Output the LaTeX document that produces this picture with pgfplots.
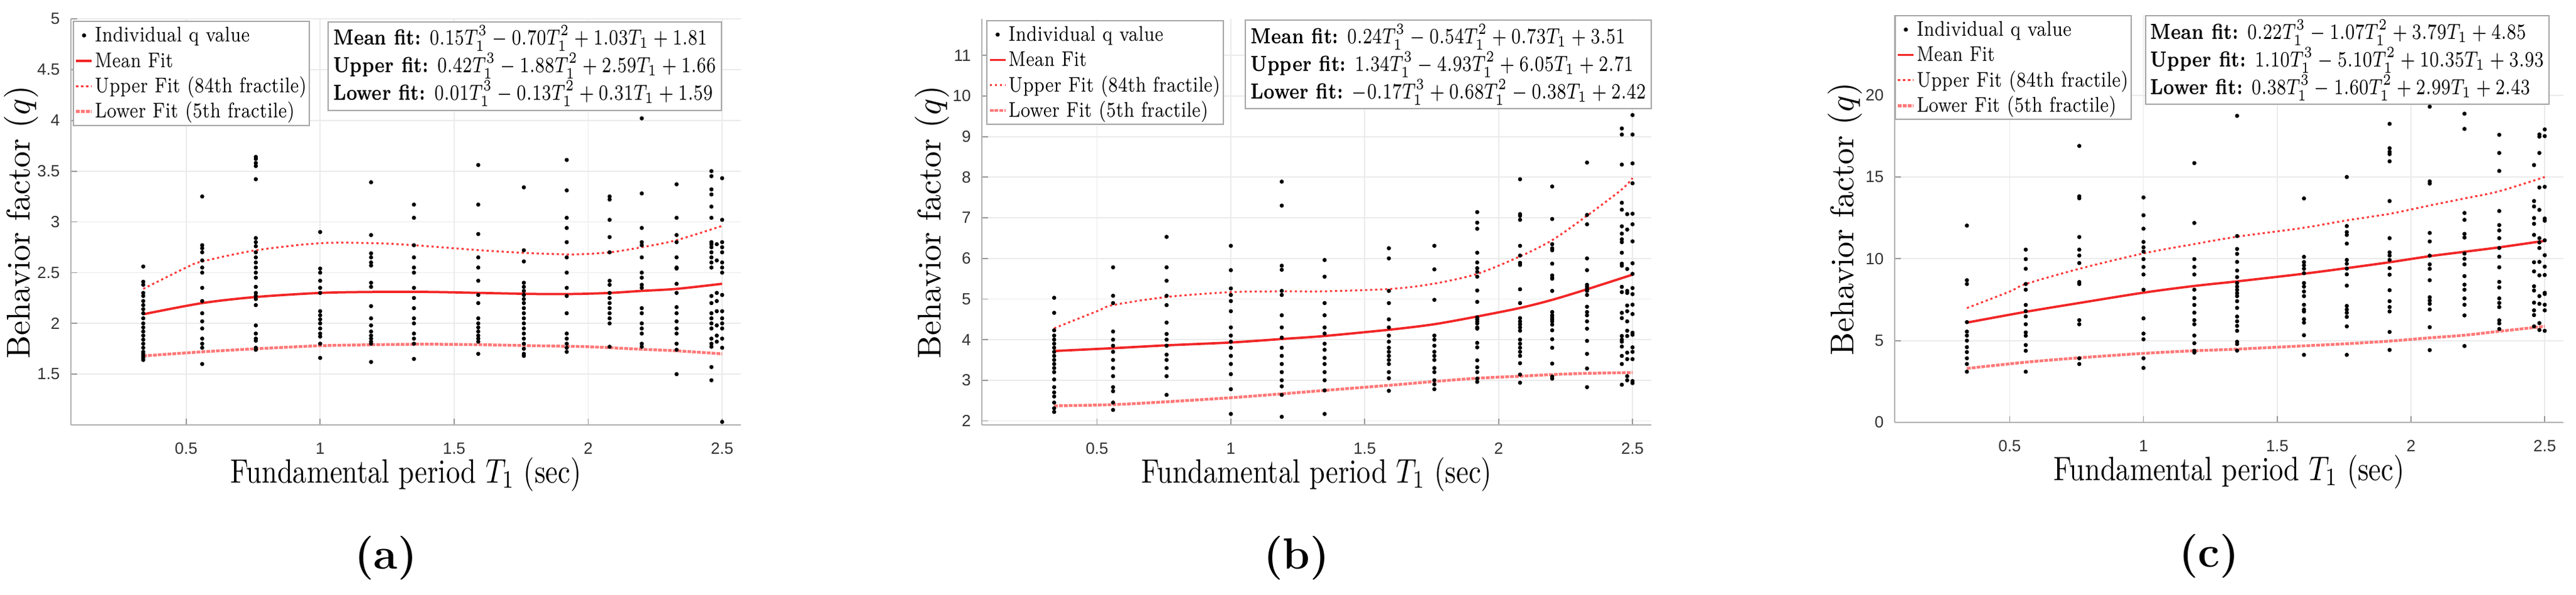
\documentclass[border=0pt]{standalone}
\usepackage{fontspec}
\usepackage{graphicx}
\usepackage{pgfplots}
\pgfplotsset{compat=1.18}
\newfontfamily\arial{Liberation Sans}

\definecolor{fitred}{rgb}{0.95,0.15,0.15}
\definecolor{upred}{rgb}{1,0.22,0.22}
\definecolor{lowred}{rgb}{1,0.47,0.47}

% text of the source figure: set each string to the width it has there
\newcommand{\lgt}[2]{\resizebox{#1}{\height}{#2\strut}}
\newcommand{\eqw}[2]{\hbox{\resizebox{#1}{\height}{#2}}}
\newcommand{\eqlines}[1]{\vbox{\setlength{\lineskiplimit}{-10pt}\setlength{\baselineskip}{8.8bp}#1}}

\pgfplotsset{
  limg/.style={legend image code/.code={\draw[mark repeat=2,mark phase=2,##1] plot coordinates {(0bp,0bp) (2.5bp,0bp) (5bp,0bp)};}},
  qpanel/.style={
    scale only axis, clip=false,
    xmin=0.07, xmax=2.57,
    xtick={0.5,1,1.5,2,2.5},
    axis lines=left,
    axis line style={-, draw=black!30, line width=0.5bp},
    tick align=inside, tick pos=left,
    major tick length=2bp,
    tick style={black!40, line width=0.35bp},
    grid=major, grid style={black!8, line width=0.35bp},
    /pgf/number format/assume math mode=true,
    tick label style={font=\arial\fontsize{5.2}{6.2}\selectfont, text=black!80},
    xticklabel style={yshift=-2.2bp},
    every axis x label/.style={at={(axis description cs:0.5,-0.122)}, anchor=center, font=\fontsize{10.8}{12}\selectfont},
    every axis y label/.style={at={(axis description cs:-0.074,0.5)}, anchor=center, rotate=90, font=\fontsize{10.5}{12}\selectfont},
    xlabel={\resizebox{111.8bp}{\height}{Fundamental period $T_1$ (sec)}},
    ylabel={\resizebox{87bp}{\height}{Behavior factor $(q)$}},
    legend cell align=left,
    legend style={anchor=north west, draw=black!35, fill=white,
      font=\fontsize{6.8}{8}\selectfont, inner sep=0.4bp,
      nodes={inner xsep=0.5bp, inner ysep=0.5bp}},
  },
  qdots/.style={limg, only marks, mark=*, mark size=0.45bp, black},
  qmean/.style={limg, fitred, line width=0.75bp, smooth, no marks},
  qup/.style={limg, upred, line width=0.6bp, dash pattern=on 0.7bp off 0.9bp, smooth, no marks},
  qlow/.style={limg, lowred, line width=0.9bp, dash pattern=on 1.2bp off 0.35bp, smooth, no marks},
}
\tikzset{
  eqbox/.style={draw=black!35, fill=white, anchor=north west,
    inner xsep=1.65bp, inner ysep=1.2bp, font=\fontsize{7}{8.8}\selectfont},
  panlabel/.style={font=\fontsize{14}{16}\selectfont\bfseries},
}

\begin{document}
\begin{tikzpicture}
\useasboundingbox (0,0) rectangle (821.2bp,189.6bp);

% ---------------- (a) ----------------
\begin{axis}[qpanel, at={(22.6bp,54.2bp)}, anchor=south west,
  width=213.6bp, height=129.4bp,
  ymin=1.0, ymax=5, ytick={1.5,2,2.5,3,3.5,4,4.5,5},
  legend style={at={(0.003,0.995)}}]
\addplot[qdots] coordinates {
(0.34,2.56)(0.34,2.41)(0.34,2.38)(0.34,2.30)(0.34,2.27)(0.34,2.22)(0.34,2.18)(0.34,2.14)(0.34,2.10)(0.34,2.05)(0.34,2.00)(0.34,1.96)(0.34,1.92)(0.34,1.88)(0.34,1.84)(0.34,1.80)(0.34,1.76)(0.34,1.72)(0.34,1.70)(0.34,1.68)(0.34,1.66)(0.34,1.64)
(0.56,3.25)(0.56,2.77)(0.56,2.74)(0.56,2.70)(0.56,2.62)(0.56,2.55)(0.56,2.50)(0.56,2.35)(0.56,2.22)(0.56,2.10)(0.56,2.02)(0.56,1.95)(0.56,1.85)(0.56,1.80)(0.56,1.76)(0.56,1.60)
(0.76,3.64)(0.76,3.62)(0.76,3.58)(0.76,3.55)(0.76,3.42)(0.76,2.84)(0.76,2.80)(0.76,2.76)(0.76,2.70)(0.76,2.65)(0.76,2.60)(0.76,2.55)(0.76,2.50)(0.76,2.45)(0.76,2.36)(0.76,2.30)(0.76,2.27)(0.76,2.24)(0.76,2.18)(0.76,1.98)(0.76,1.90)(0.76,1.85)(0.76,1.83)(0.76,1.76)(0.76,1.74)
(1.00,2.90)(1.00,2.54)(1.00,2.50)(1.00,2.42)(1.00,2.35)(1.00,2.30)(1.00,2.12)(1.00,2.08)(1.00,2.04)(1.00,2.00)(1.00,1.95)(1.00,1.90)(1.00,1.87)(1.00,1.80)(1.00,1.66)
(1.19,3.39)(1.19,2.87)(1.19,2.69)(1.19,2.65)(1.19,2.60)(1.19,2.57)(1.19,2.40)(1.19,2.36)(1.19,2.17)(1.19,2.05)(1.19,1.98)(1.19,1.92)(1.19,1.88)(1.19,1.85)(1.19,1.82)(1.19,1.80)(1.19,1.62)
(1.35,3.17)(1.35,3.04)(1.35,2.77)(1.35,2.65)(1.35,2.55)(1.35,2.50)(1.35,2.35)(1.35,2.25)(1.35,2.15)(1.35,2.05)(1.35,2.00)(1.35,1.90)(1.35,1.85)(1.35,1.80)(1.35,1.65)
(1.59,3.56)(1.59,3.17)(1.59,2.88)(1.59,2.65)(1.59,2.55)(1.59,2.42)(1.59,2.28)(1.59,2.20)(1.59,2.05)(1.59,2.00)(1.59,1.96)(1.59,1.92)(1.59,1.88)(1.59,1.85)(1.59,1.82)(1.59,1.70)
(1.76,3.34)(1.76,2.72)(1.76,2.61)(1.76,2.40)(1.76,2.36)(1.76,2.32)(1.76,2.28)(1.76,2.24)(1.76,2.20)(1.76,2.15)(1.76,2.10)(1.76,2.05)(1.76,2.00)(1.76,1.95)(1.76,1.90)(1.76,1.85)(1.76,1.80)(1.76,1.75)(1.76,1.70)(1.76,1.68)
(1.92,3.61)(1.92,3.31)(1.92,3.04)(1.92,2.94)(1.92,2.80)(1.92,2.65)(1.92,2.50)(1.92,2.35)(1.92,2.27)(1.92,2.10)(1.92,1.90)(1.92,1.85)(1.92,1.80)(1.92,1.76)(1.92,1.72)
(2.08,3.25)(2.08,3.22)(2.08,3.02)(2.08,2.85)(2.08,2.70)(2.08,2.42)(2.08,2.38)(2.08,2.30)(2.08,2.25)(2.08,2.20)(2.08,2.15)(2.08,2.10)(2.08,2.05)(2.08,2.00)(2.08,1.77)
(2.20,4.02)(2.20,3.28)(2.20,2.94)(2.20,2.80)(2.20,2.77)(2.20,2.65)(2.20,2.50)(2.20,2.45)(2.20,2.38)(2.20,2.35)(2.20,2.15)(2.20,2.10)(2.20,2.00)(2.20,1.95)(2.20,1.90)(2.20,1.80)(2.20,1.77)
(2.33,3.37)(2.33,3.04)(2.33,2.87)(2.33,2.80)(2.33,2.65)(2.33,2.55)(2.33,2.54)(2.33,2.39)(2.33,2.30)(2.33,2.16)(2.33,2.10)(2.33,2.02)(2.33,1.95)(2.33,1.90)(2.33,1.80)(2.33,1.74)(2.33,1.50)
(2.46,3.50)(2.46,3.45)(2.46,3.32)(2.46,3.27)(2.46,3.15)(2.46,3.04)(2.46,2.80)(2.46,2.78)(2.46,2.75)(2.46,2.70)(2.46,2.65)(2.46,2.60)(2.46,2.55)(2.46,2.27)(2.46,2.20)(2.46,2.10)(2.46,2.05)(2.46,2.00)(2.46,1.95)(2.46,1.85)(2.46,1.80)(2.46,1.77)(2.46,1.57)(2.46,1.44)
(2.48,2.78)(2.48,2.62)(2.48,2.30)(2.48,2.22)(2.48,2.12)(2.48,1.98)(2.48,1.88)(2.48,1.82)
(2.50,3.43)(2.50,3.02)(2.50,2.80)(2.50,2.75)(2.50,2.70)(2.50,2.60)(2.50,2.55)(2.50,2.50)(2.50,2.28)(2.50,2.12)(2.50,2.05)(2.50,2.00)(2.50,1.95)(2.50,1.85)(2.50,1.76)(2.50,1.03)
};
\addlegendentry{\lgt{49.4bp}{Individual q value}}
\addplot[qmean] coordinates {(0.34,2.09)(0.56,2.20)(0.76,2.26)(1.00,2.30)(1.20,2.31)(1.40,2.31)(1.60,2.30)(1.80,2.29)(1.95,2.29)(2.08,2.30)(2.20,2.32)(2.33,2.34)(2.50,2.39)};
\addlegendentry{\lgt{25bp}{Mean Fit}}
\addplot[qup] coordinates {(0.34,2.34)(0.50,2.55)(0.56,2.61)(0.76,2.72)(1.00,2.79)(1.20,2.79)(1.35,2.77)(1.60,2.72)(1.80,2.69)(1.95,2.68)(2.08,2.70)(2.20,2.75)(2.33,2.82)(2.50,2.96)};
\addlegendentry{\lgt{67.5bp}{Upper Fit (84th fractile)}}
\addplot[qlow] coordinates {(0.34,1.68)(0.56,1.72)(0.76,1.75)(1.00,1.78)(1.20,1.79)(1.40,1.795)(1.60,1.79)(1.80,1.78)(2.00,1.77)(2.20,1.745)(2.33,1.73)(2.50,1.70)};
\addlegendentry{\lgt{63.7bp}{Lower Fit (5th fractile)}}
\node[eqbox] at (rel axis cs:0.383,0.994) {\eqlines{%
\eqw{119.2bp}{\textbf{Mean fit:} $0.15T_1^3-0.70T_1^2+1.03T_1+1.81$}
\eqw{122bp}{\textbf{Upper fit:} $0.42T_1^3-1.88T_1^2+2.59T_1+1.66$}
\eqw{121bp}{\textbf{Lower fit:} $0.01T_1^3-0.13T_1^2+0.31T_1+1.59$}}};
\node[panlabel] at (axis description cs:0.47,-0.328) {(a)};
\end{axis}

% ---------------- (b) ----------------
\begin{axis}[qpanel, at={(313bp,54.2bp)}, anchor=south west,
  width=213.4bp, height=129.4bp,
  ymin=1.9, ymax=11.9, ytick={2,3,4,5,6,7,8,9,10,11},
  legend style={at={(0.007,0.997)}}]
\addplot[qdots] coordinates {
(0.34,5.03)(0.34,4.66)(0.34,4.23)(0.34,4.10)(0.34,4.00)(0.34,3.90)(0.34,3.80)(0.34,3.70)(0.34,3.60)(0.34,3.50)(0.34,3.40)(0.34,3.30)(0.34,3.20)(0.34,3.02)(0.34,2.83)(0.34,2.70)(0.34,2.60)(0.34,2.45)(0.34,2.31)(0.34,2.22)
(0.56,5.78)(0.56,5.08)(0.56,4.90)(0.56,4.20)(0.56,4.00)(0.56,3.85)(0.56,3.70)(0.56,3.50)(0.56,3.30)(0.56,3.10)(0.56,2.83)(0.56,2.73)(0.56,2.45)(0.56,2.27)
(0.76,6.53)(0.76,5.78)(0.76,5.45)(0.76,5.08)(0.76,4.85)(0.76,4.42)(0.76,4.14)(0.76,4.00)(0.76,3.85)(0.76,3.63)(0.76,3.50)(0.76,3.30)(0.76,3.10)(0.76,2.64)
(1.00,6.31)(1.00,5.71)(1.00,5.26)(1.00,5.10)(1.00,4.95)(1.00,4.70)(1.00,4.30)(1.00,4.10)(1.00,3.95)(1.00,3.80)(1.00,3.60)(1.00,3.40)(1.00,3.15)(1.00,2.78)(1.00,2.17)
(1.19,7.89)(1.19,7.30)(1.19,5.82)(1.19,5.72)(1.19,5.20)(1.19,5.10)(1.19,4.60)(1.19,4.30)(1.19,4.05)(1.19,3.80)(1.19,3.60)(1.19,3.40)(1.19,3.20)(1.19,3.00)(1.19,2.85)(1.19,2.64)(1.19,2.10)
(1.35,5.96)(1.35,5.55)(1.35,4.90)(1.35,4.60)(1.35,4.30)(1.35,4.15)(1.35,3.90)(1.35,3.75)(1.35,3.55)(1.35,3.40)(1.35,3.20)(1.35,3.00)(1.35,2.75)(1.35,2.17)
(1.59,6.25)(1.59,6.00)(1.59,5.20)(1.59,4.90)(1.59,4.50)(1.59,4.30)(1.59,4.10)(1.59,3.95)(1.59,3.80)(1.59,3.70)(1.59,3.60)(1.59,3.50)(1.59,3.40)(1.59,3.20)(1.59,3.05)(1.59,2.74)
(1.76,6.31)(1.76,5.73)(1.76,4.98)(1.76,4.10)(1.76,4.00)(1.76,3.85)(1.76,3.70)(1.76,3.60)(1.76,3.50)(1.76,3.30)(1.76,3.20)(1.76,3.00)(1.76,2.90)(1.76,2.78)
(1.92,7.14)(1.92,6.88)(1.92,6.73)(1.92,6.14)(1.92,5.90)(1.92,5.76)(1.92,5.67)(1.92,5.55)(1.92,5.21)(1.92,4.93)(1.92,4.55)(1.92,4.50)(1.92,4.45)(1.92,4.40)(1.92,4.30)(1.92,4.27)(1.92,3.92)(1.92,3.81)(1.92,3.49)(1.92,3.32)(1.92,3.20)(1.92,3.04)(1.92,2.96)
(2.08,7.95)(2.08,7.09)(2.08,7.05)(2.08,6.95)(2.08,6.31)(2.08,6.07)(2.08,5.89)(2.08,5.84)(2.08,5.24)(2.08,4.90)(2.08,4.53)(2.08,4.45)(2.08,4.38)(2.08,4.30)(2.08,4.22)(2.08,4.00)(2.08,3.90)(2.08,3.80)(2.08,3.70)(2.08,3.60)(2.08,3.42)(2.08,3.14)(2.08,2.94)
(2.20,7.77)(2.20,6.97)(2.20,6.35)(2.20,6.25)(2.20,6.20)(2.20,5.87)(2.20,5.58)(2.20,5.52)(2.20,5.50)(2.20,5.20)(2.20,4.68)(2.20,4.60)(2.20,4.55)(2.20,4.50)(2.20,4.45)(2.20,4.37)(2.20,4.23)(2.20,4.01)(2.20,3.80)(2.20,3.41)(2.20,3.09)(2.20,3.04)
(2.33,8.36)(2.33,7.07)(2.33,6.84)(2.33,6.00)(2.33,5.71)(2.33,5.35)(2.33,5.30)(2.33,5.25)(2.33,5.20)(2.33,5.10)(2.33,4.81)(2.33,4.68)(2.33,4.60)(2.33,4.45)(2.33,4.27)(2.33,3.97)(2.33,3.65)(2.33,3.29)(2.33,2.83)
(2.46,9.20)(2.46,9.05)(2.46,8.31)(2.46,7.37)(2.46,7.20)(2.46,6.79)(2.46,6.61)(2.46,6.47)(2.46,6.40)(2.46,6.14)(2.46,5.87)(2.46,5.82)(2.46,5.30)(2.46,5.17)(2.46,4.66)(2.46,4.53)(2.46,4.09)(2.46,4.00)(2.46,3.95)(2.46,3.83)(2.46,3.60)(2.46,3.40)(2.46,2.89)
(2.48,7.09)(2.48,6.71)(2.48,5.74)(2.48,5.20)(2.48,5.15)(2.48,4.84)(2.48,4.70)(2.48,4.45)(2.48,4.22)(2.48,4.09)(2.48,3.68)(2.48,3.52)(2.48,3.10)(2.48,3.00)
(2.50,9.53)(2.50,9.05)(2.50,8.34)(2.50,7.85)(2.50,7.10)(2.50,6.84)(2.50,6.42)(2.50,5.88)(2.50,5.62)(2.50,5.27)(2.50,5.12)(2.50,4.86)(2.50,4.63)(2.50,4.17)(2.50,4.12)(2.50,3.81)(2.50,3.70)(2.50,3.52)(2.50,2.98)(2.50,2.93)
};
\addlegendentry{\lgt{49.4bp}{Individual q value}}
\addplot[qmean] coordinates {(0.34,3.72)(0.56,3.79)(0.76,3.86)(1.00,3.93)(1.20,4.02)(1.35,4.09)(1.60,4.25)(1.76,4.38)(1.92,4.57)(2.08,4.78)(2.20,4.98)(2.33,5.24)(2.50,5.60)};
\addlegendentry{\lgt{25bp}{Mean Fit}}
\addplot[qup] coordinates {(0.34,4.28)(0.50,4.70)(0.56,4.85)(0.76,5.05)(1.00,5.17)(1.20,5.19)(1.35,5.19)(1.60,5.25)(1.76,5.38)(1.92,5.62)(2.08,6.05)(2.20,6.45)(2.33,7.05)(2.46,7.70)(2.50,7.98)};
\addlegendentry{\lgt{67.5bp}{Upper Fit (84th fractile)}}
\addplot[qlow] coordinates {(0.34,2.37)(0.56,2.40)(0.76,2.47)(1.00,2.57)(1.20,2.67)(1.35,2.75)(1.60,2.88)(1.76,2.97)(1.92,3.05)(2.08,3.10)(2.20,3.14)(2.33,3.17)(2.50,3.19)};
\addlegendentry{\lgt{63.7bp}{Lower Fit (5th fractile)}}
\node[eqbox] at (rel axis cs:0.393,0.998) {\eqlines{%
\eqw{119.4bp}{\textbf{Mean fit:} $0.24T_1^3-0.54T_1^2+0.73T_1+3.51$}
\eqw{122bp}{\textbf{Upper fit:} $1.34T_1^3-4.93T_1^2+6.05T_1+2.71$}
\eqw{126bp}{\textbf{Lower fit:} $-0.17T_1^3+0.68T_1^2-0.38T_1+2.42$}}};
\node[panlabel] at (axis description cs:0.47,-0.328) {(b)};
\end{axis}

% ---------------- (c) ----------------
\begin{axis}[qpanel, at={(604bp,55bp)}, anchor=south west,
  width=213.2bp, height=129.8bp,
  ymin=0, ymax=24.9, ytick={0,5,10,15,20},
  legend style={at={(0,1)}}]
\addplot[qdots] coordinates {
(0.34,12.03)(0.34,8.69)(0.34,8.46)(0.34,6.13)(0.34,5.55)(0.34,5.31)(0.34,5.00)(0.34,4.60)(0.34,4.30)(0.34,3.92)(0.34,3.57)(0.34,3.10)
(0.56,10.56)(0.56,9.98)(0.56,9.39)(0.56,8.46)(0.56,8.11)(0.56,7.18)(0.56,6.80)(0.56,6.48)(0.56,6.00)(0.56,5.50)(0.56,5.30)(0.56,4.73)(0.56,4.38)(0.56,3.10)
(0.76,16.90)(0.76,13.82)(0.76,13.70)(0.76,11.33)(0.76,10.56)(0.76,10.20)(0.76,9.74)(0.76,8.58)(0.76,8.46)(0.76,6.25)(0.76,6.00)(0.76,3.92)(0.76,3.57)
(1.00,13.75)(1.00,12.66)(1.00,11.84)(1.00,11.03)(1.00,10.70)(1.00,10.44)(1.00,9.98)(1.00,9.50)(1.00,9.04)(1.00,8.11)(1.00,6.36)(1.00,5.43)(1.00,5.08)(1.00,3.92)(1.00,3.33)
(1.19,15.85)(1.19,12.19)(1.19,9.98)(1.19,9.50)(1.19,9.04)(1.19,8.11)(1.19,7.60)(1.19,7.18)(1.19,6.71)(1.19,6.25)(1.19,6.00)(1.19,5.31)(1.19,4.84)(1.19,4.38)(1.19,4.27)
(1.35,18.74)(1.35,11.39)(1.35,10.60)(1.35,10.30)(1.35,9.81)(1.35,9.28)(1.35,8.88)(1.35,8.52)(1.35,8.30)(1.35,8.10)(1.35,7.90)(1.35,7.72)(1.35,7.41)(1.35,7.00)(1.35,6.47)(1.35,6.18)(1.35,5.90)(1.35,5.60)(1.35,4.93)(1.35,4.79)(1.35,4.39)
(1.60,13.69)(1.60,10.12)(1.60,9.80)(1.60,9.60)(1.60,9.39)(1.60,9.12)(1.60,8.52)(1.60,8.30)(1.60,8.00)(1.60,7.72)(1.60,7.19)(1.60,6.90)(1.60,6.78)(1.60,6.31)(1.60,6.10)(1.60,5.33)(1.60,4.13)
(1.76,15.00)(1.76,12.00)(1.76,11.63)(1.76,11.46)(1.76,10.93)(1.76,9.93)(1.76,9.70)(1.76,9.40)(1.76,9.05)(1.76,8.36)(1.76,7.12)(1.76,6.90)(1.76,6.70)(1.76,6.45)(1.76,5.87)(1.76,4.13)
(1.92,18.25)(1.92,16.76)(1.92,16.54)(1.92,16.40)(1.92,15.96)(1.92,13.53)(1.92,11.26)(1.92,10.39)(1.92,10.20)(1.92,9.93)(1.92,9.43)(1.92,9.03)(1.92,8.08)(1.92,7.41)(1.92,7.05)(1.92,6.78)(1.92,5.53)(1.92,4.43)
(2.07,19.30)(2.07,14.73)(2.07,14.60)(2.07,11.58)(2.07,11.06)(2.07,10.19)(2.07,9.66)(2.07,9.39)(2.07,8.69)(2.07,7.65)(2.07,7.45)(2.07,7.25)(2.07,6.90)(2.07,5.82)(2.07,4.42)
(2.20,18.87)(2.20,17.94)(2.20,12.80)(2.20,12.38)(2.20,11.52)(2.20,11.30)(2.20,10.32)(2.20,10.00)(2.20,9.66)(2.20,8.94)(2.20,8.42)(2.20,8.11)(2.20,7.58)(2.20,7.19)(2.20,6.54)(2.20,4.67)
(2.33,17.58)(2.33,16.47)(2.33,15.37)(2.33,12.92)(2.33,12.06)(2.33,11.73)(2.33,11.26)(2.33,10.66)(2.33,10.13)(2.33,9.48)(2.33,8.59)(2.33,8.25)(2.33,7.58)(2.33,7.30)(2.33,7.05)(2.33,6.24)(2.33,6.05)(2.33,5.71)
(2.46,15.73)(2.46,13.53)(2.46,13.20)(2.46,12.49)(2.46,12.14)(2.46,11.46)(2.46,9.79)(2.46,9.23)(2.46,8.32)(2.46,8.06)(2.46,7.32)(2.46,6.85)(2.46,6.56)(2.46,5.87)
(2.48,17.60)(2.48,17.47)(2.48,16.47)(2.48,14.36)(2.48,12.99)(2.48,11.26)(2.48,11.00)(2.48,10.66)(2.48,9.81)(2.48,8.99)(2.48,7.72)(2.48,7.25)(2.48,6.07)(2.48,5.65)
(2.50,17.91)(2.50,17.50)(2.50,14.40)(2.50,12.46)(2.50,12.33)(2.50,11.13)(2.50,10.22)(2.50,9.52)(2.50,9.01)(2.50,7.92)(2.50,7.85)(2.50,7.19)(2.50,6.85)(2.50,5.60)
};
\addlegendentry{\lgt{49.4bp}{Individual q value}}
\addplot[qmean] coordinates {(0.34,6.10)(0.56,6.76)(0.76,7.30)(1.00,7.93)(1.19,8.34)(1.35,8.62)(1.60,9.09)(1.76,9.43)(1.92,9.79)(2.07,10.16)(2.20,10.43)(2.33,10.70)(2.50,11.10)};
\addlegendentry{\lgt{25bp}{Mean Fit}}
\addplot[qup] coordinates {(0.34,6.99)(0.50,8.00)(0.56,8.46)(0.76,9.39)(1.00,10.33)(1.19,10.90)(1.35,11.35)(1.60,11.90)(1.76,12.35)(1.92,12.75)(2.07,13.26)(2.20,13.69)(2.33,14.13)(2.50,15.00)};
\addlegendentry{\lgt{67.5bp}{Upper Fit (84th fractile)}}
\addplot[qlow] coordinates {(0.34,3.30)(0.56,3.68)(0.76,3.95)(1.00,4.22)(1.19,4.38)(1.35,4.48)(1.60,4.68)(1.76,4.81)(1.92,4.97)(2.07,5.17)(2.20,5.33)(2.33,5.57)(2.50,5.87)};
\addlegendentry{\lgt{63.7bp}{Lower Fit (5th fractile)}}
\node[eqbox] at (rel axis cs:0.374,1.0) {\eqlines{%
\eqw{119.7bp}{\textbf{Mean fit:} $0.22T_1^3-1.07T_1^2+3.79T_1+4.85$}
\eqw{125.4bp}{\textbf{Upper fit:} $1.10T_1^3-5.10T_1^2+10.35T_1+3.93$}
\eqw{121bp}{\textbf{Lower fit:} $0.38T_1^3-1.60T_1^2+2.99T_1+2.43$}}};
\node[panlabel] at (axis description cs:0.47,-0.328) {(c)};
\end{axis}
\end{tikzpicture}
\end{document}
